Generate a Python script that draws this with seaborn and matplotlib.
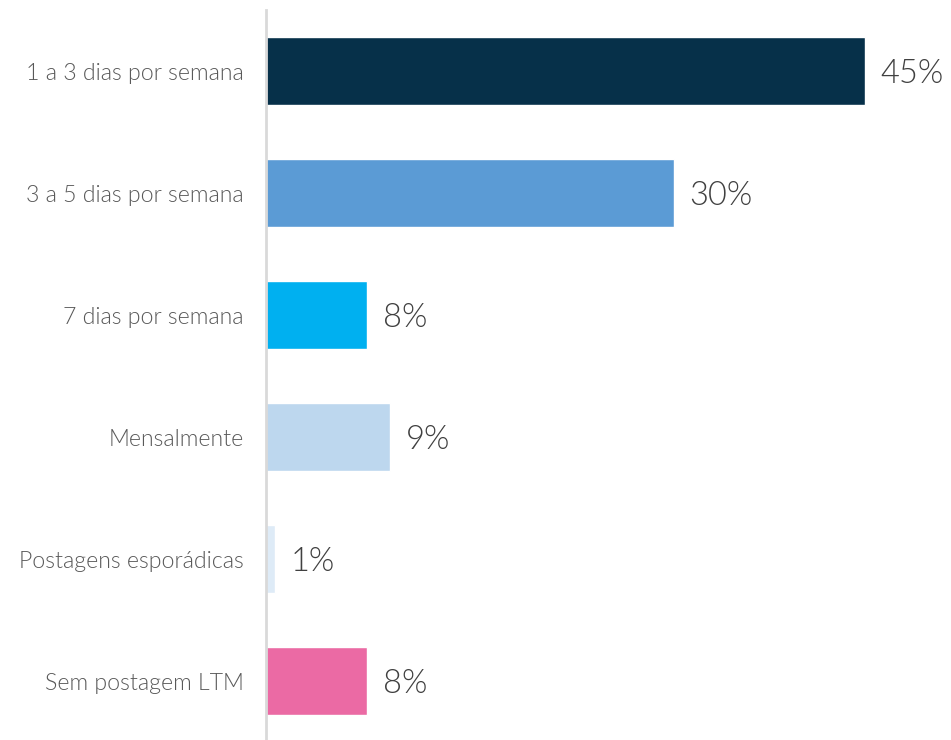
import matplotlib
matplotlib.use("Agg")
import matplotlib.pyplot as plt
import seaborn as sns
import pandas as pd

categories = ["1 a 3 dias por semana", "3 a 5 dias por semana", "7 dias por semana",
              "Mensalmente", "Postagens esporádicas", "Sem postagem LTM"]
values = [44.4, 30.2, 7.5, 9.2, 0.7, 7.5]
value_labels = ["45%", "30%", "8%", "9%", "1%", "8%"]
colors = ["#063049", "#5b9bd5", "#00b0f0", "#bdd7ee", "#deebf7", "#eb6aa4"]

sns.set_style("white")
plt.rcParams["font.family"] = ["Lato", "DejaVu Sans"]

df = pd.DataFrame({"cat": categories, "val": values})

fig = plt.figure(figsize=(9.51, 7.40), dpi=100)
ax = fig.add_axes([266 / 951, -2 / 740, (951 - 266) / 951, (743 - 11) / 740])
sns.barplot(data=df, x="val", y="cat", hue="cat", palette=colors, orient="h",
            width=0.56, legend=False, ax=ax, saturation=1)
ax.set_xlim(0, (951 - 266) / 13.5)
ax.set_ylim(5.5, -0.5)
ax.set_xlabel("")
ax.set_ylabel("")
ax.set_xticks([])
for s in ["top", "right", "bottom"]:
    ax.spines[s].set_visible(False)
ax.spines["left"].set_color("#d9d9d9")
ax.spines["left"].set_linewidth(2)
ax.tick_params(axis="y", length=0, pad=16)
for t in ax.get_yticklabels():
    t.set_fontsize(16.7)
    t.set_color("#595959")
    t.set_fontweight(300)
for i, (v, lab) in enumerate(zip(values, value_labels)):
    ax.annotate(lab, xy=(v, i), xytext=(11, -2), textcoords="offset points",
                ha="left", va="center", fontsize=23.5, color="#404040", fontweight=300)
fig.savefig("out.png", dpi=100)
